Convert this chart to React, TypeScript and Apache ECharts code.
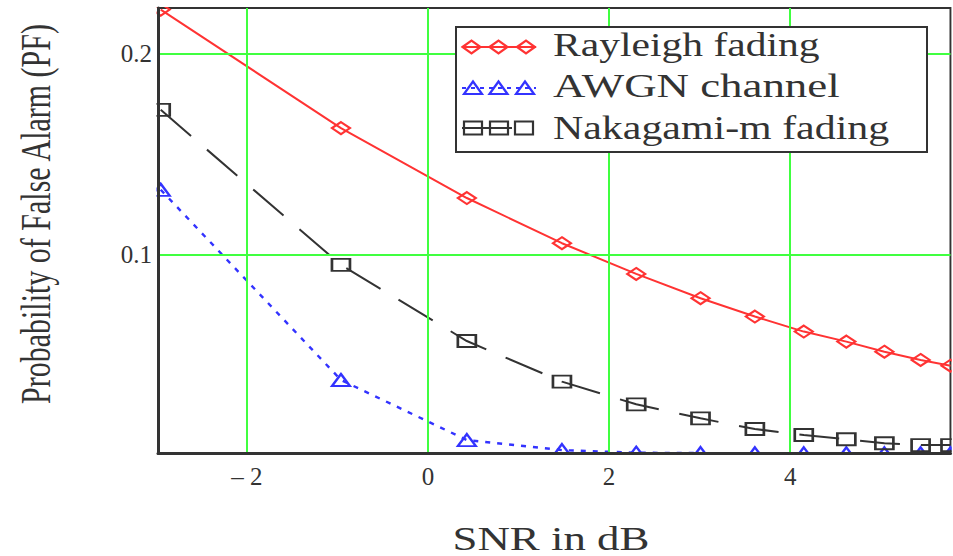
import React, { useEffect, useRef } from "react";
import * as echarts from "echarts";

// SNR (dB) sample positions
const snrDb = [-2.95, -0.96, 0.43, 1.48, 2.3, 3.01, 3.61, 4.15, 4.62, 5.04, 5.44, 5.77];
// Probability of false alarm
const rayleigh = [0.2221, 0.1631, 0.1283, 0.1058, 0.0905, 0.0784, 0.0693, 0.0618, 0.0568, 0.0518, 0.0477, 0.0448];
const awgn = [0.1324, 0.0377, 0.0078, 0.0028, 0.0015, 0.0013, 0.0012, 0.0012, 0.0012, 0.0012, 0.0012, 0.0012];
const nakagami = [0.1722, 0.095, 0.0571, 0.0369, 0.0256, 0.0186, 0.0133, 0.0103, 0.0082, 0.0062, 0.0053, 0.0053];

const seriesNames = ["Rayleigh fading", "AWGN channel", "Nakagami-m fading"];
const xTitle = "SNR in dB";
const yTitle = "Probability of False Alarm (PF)";

const X_MIN = -2.98;
const X_MAX = 5.77;
const Y_MIN = 0.0012;
const Y_MAX = 0.2229;

const RED = "#ff3333";
const BLUE = "#3333ff";
const DARK = "#333333";
const GREEN = "#40ff40";
const SERIF = "'Liberation Serif', 'Times New Roman', serif";

function diamond(cx: number, cy: number, color: string) {
  return {
    type: "polygon",
    z: 21,
    shape: { points: [[cx - 9, cy], [cx, cy - 6.5], [cx + 9, cy], [cx, cy + 6.5]] },
    style: { fill: "none", stroke: color, lineWidth: 2.2 },
  };
}
function tri(cx: number, cy: number, color: string) {
  return {
    type: "polygon",
    z: 21,
    shape: { points: [[cx, cy - 6.5], [cx + 9, cy + 6], [cx - 9, cy + 6]] },
    style: { fill: "none", stroke: color, lineWidth: 2.2 },
  };
}
function square(cx: number, cy: number, color: string) {
  return {
    type: "rect",
    z: 21,
    shape: { x: cx - 9, y: cy - 6.5, width: 18, height: 13 },
    style: { fill: "none", stroke: color, lineWidth: 2.2 },
  };
}

export default function App() {
  const ref = useRef<HTMLDivElement>(null);
  useEffect(() => {
    document.body.style.margin = "0";
    if (!ref.current) return;
    const chart = echarts.init(ref.current, null, { renderer: "svg" });
    const mk = (ys: number[]) => snrDb.map((x, i) => [x, ys[i]]);
    const option: any = {
      animation: false,
      backgroundColor: "#ffffff",
      grid: {
        left: 158,
        top: 8,
        right: 2.5,
        bottom: 102.7,
        show: true,
        borderColor: DARK,
        borderWidth: 2,
        backgroundColor: "transparent",
      },
      xAxis: {
        type: "value",
        min: X_MIN,
        max: X_MAX,
        z: 10,
        axisLine: { show: true, onZero: false, lineStyle: { color: DARK, width: 3 } },
        axisTick: { show: false },
        splitLine: { show: true, showMinLine: false, showMaxLine: false, lineStyle: { color: GREEN, width: 2 } },
        axisLabel: {
          showMinLabel: false,
          showMaxLabel: false,
          margin: 11,
          color: DARK,
          fontFamily: SERIF,
          fontSize: 25,
          formatter: (v: number) => (v < 0 ? "\u2013 " + Math.abs(v) : String(v)),
        },
      },
      yAxis: {
        type: "value",
        min: Y_MIN,
        max: Y_MAX,
        splitNumber: 2,
        z: 10,
        axisLine: { show: true, onZero: false, lineStyle: { color: DARK, width: 3 } },
        axisTick: { show: false },
        splitLine: { show: true, showMinLine: false, showMaxLine: false, lineStyle: { color: GREEN, width: 2 } },
        axisLabel: {
          showMinLabel: false,
          showMaxLabel: false,
          margin: 6,
          color: DARK,
          fontFamily: SERIF,
          fontSize: 25,
          formatter: (v: number) => v.toFixed(1),
        },
      },
      series: [
        {
          name: seriesNames[0],
          type: "line",
          data: mk(rayleigh),
          symbol: "diamond",
          symbolSize: [18, 12],
          lineStyle: { color: RED, width: 2 },
          itemStyle: { color: "transparent", borderColor: RED, borderWidth: 2.2 },
          z: 2,
        },
        {
          name: seriesNames[1],
          type: "line",
          data: mk(awgn),
          symbol: "triangle",
          symbolSize: [18, 12],
          lineStyle: { color: BLUE, width: 2.4, type: [5, 7] },
          itemStyle: { color: "transparent", borderColor: BLUE, borderWidth: 2.2 },
          z: 2,
        },
        {
          name: seriesNames[2],
          type: "line",
          data: mk(nakagami),
          symbol: "rect",
          symbolSize: [18, 12],
          lineStyle: { color: DARK, width: 2, type: [40, 21] },
          itemStyle: { color: "transparent", borderColor: DARK, borderWidth: 2.2 },
          z: 2,
        },
      ],
      graphic: [
        // mask strips to clip markers at the plot edges
        { type: "rect", z: 5, silent: true, shape: { x: 0, y: 0, width: 953, height: 7 }, style: { fill: "#fff" } },
        { type: "rect", z: 5, silent: true, shape: { x: 130, y: 0, width: 26.5, height: 470 }, style: { fill: "#fff" } },
        { type: "rect", z: 5, silent: true, shape: { x: 130, y: 455, width: 823, height: 12 }, style: { fill: "#fff" } },
        { type: "rect", z: 5, silent: true, shape: { x: 951.8, y: 0, width: 5, height: 470 }, style: { fill: "#fff" } },
        // legend
        {
          type: "rect",
          z: 20,
          shape: { x: 456, y: 27, width: 471, height: 125 },
          style: { fill: "#fff", stroke: DARK, lineWidth: 2 },
        },
        { type: "line", z: 21, shape: { x1: 462, y1: 47, x2: 536, y2: 47 }, style: { stroke: RED, lineWidth: 2 } },
        diamond(471.5, 47, RED),
        diamond(498.5, 47, RED),
        diamond(526, 47, RED),
        { type: "line", z: 21, shape: { x1: 462, y1: 88, x2: 536, y2: 88 }, style: { stroke: BLUE, lineWidth: 2, lineDash: [4, 5] } },
        tri(473, 88, BLUE),
        tri(498.5, 88, BLUE),
        tri(525, 88, BLUE),
        { type: "line", z: 21, shape: { x1: 462, y1: 128, x2: 512, y2: 128 }, style: { stroke: DARK, lineWidth: 2 } },
        square(473, 128, DARK),
        square(499, 128, DARK),
        square(524, 128, DARK),
        {
          type: "text",
          z: 21,
          x: 553,
          y: 45,
          scaleX: 1.26,
          style: { text: seriesNames[0], fontSize: 33, fontFamily: SERIF, fill: DARK, align: "left", verticalAlign: "middle" },
        },
        {
          type: "text",
          z: 21,
          x: 553,
          y: 86.5,
          scaleX: 1.36,
          style: { text: seriesNames[1], fontSize: 33, fontFamily: SERIF, fill: DARK, align: "left", verticalAlign: "middle" },
        },
        {
          type: "text",
          z: 21,
          x: 553,
          y: 127.5,
          scaleX: 1.27,
          style: { text: seriesNames[2], fontSize: 33, fontFamily: SERIF, fill: DARK, align: "left", verticalAlign: "middle" },
        },
        // axis titles
        {
          type: "text",
          z: 21,
          x: 551,
          y: 538.5,
          scaleX: 1.32,
          style: { text: xTitle, fontSize: 34, fontFamily: SERIF, fill: DARK, align: "center", verticalAlign: "middle" },
        },
        {
          type: "text",
          z: 21,
          x: 36,
          y: 214,
          rotation: Math.PI / 2,
          scaleY: 1.4,
          style: { text: yTitle, fontSize: 30, fontFamily: SERIF, fill: DARK, align: "center", verticalAlign: "middle" },
        },
      ],
    };
    chart.setOption(option);
    return () => chart.dispose();
  }, []);
  return (
    <div
      ref={ref}
      style={{ position: "fixed", left: 0, top: 0, width: 953, height: 556, background: "#fff" }}
    />
  );
}
